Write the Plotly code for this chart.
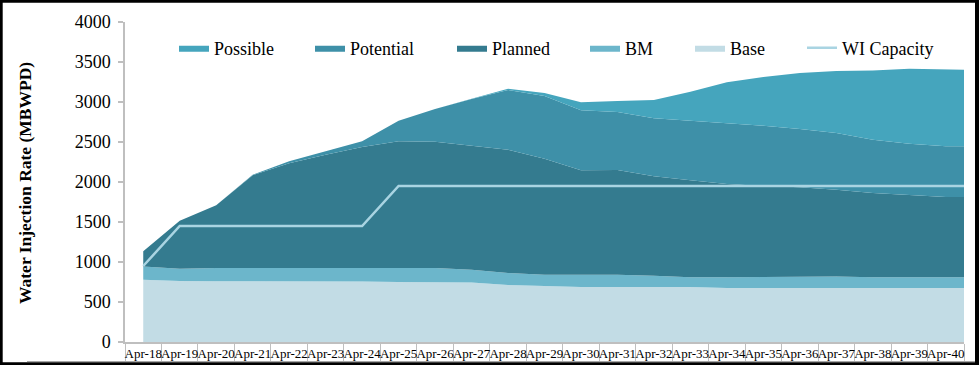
import plotly.graph_objects as go

months = ["Apr-18", "Apr-19", "Apr-20", "Apr-21", "Apr-22", "Apr-23", "Apr-24", "Apr-25",
          "Apr-26", "Apr-27", "Apr-28", "Apr-29", "Apr-30", "Apr-31", "Apr-32", "Apr-33",
          "Apr-34", "Apr-35", "Apr-36", "Apr-37", "Apr-38", "Apr-39", "Apr-40"]
base = [779, 762, 760, 760, 760, 758, 755, 750, 750, 745, 712, 695, 687, 687, 687, 687,
        675, 675, 675, 675, 675, 675, 675]
bm = [166, 154, 165, 165, 165, 167, 170, 175, 175, 159, 150, 146, 154, 154, 142, 121,
      133, 141, 141, 145, 133, 133, 133]
planned = [190, 600, 783, 1160, 1310, 1416, 1512, 1583, 1579, 1550, 1542, 1449, 1305, 1309,
           1242, 1213, 1167, 1134, 1117, 1084, 1054, 1029, 1004]
potential = [0, 0, 0, 6, 23, 42, 71, 258, 408, 583, 746, 785, 750, 725, 725, 745, 762, 754,
             729, 708, 667, 642, 634]
possible = [0, 0, 0, 0, 0, 0, 0, 0, 0, 3, 15, 37, 100, 137, 229, 363, 509, 608, 700, 775,
            866, 937, 958]
wi_capacity = [950, 1450, 1450, 1450, 1450, 1450, 1450, 1950, 1950, 1950, 1950, 1950, 1950,
               1950, 1950, 1950, 1950, 1950, 1950, 1950, 1950, 1950, 1950]

W, H = 979, 365
L, R, T, B = 125, 15, 22, 23
PW, PH = W - L - R, H - T - B


def px(xp):
    return (xp - L) / PW


def py(yp):
    return (H - B - yp) / PH


x_pos = list(range(len(months)))
# areas run on to the right edge of the last category cell
x_area = x_pos + [x_pos[-1] + 0.5]


def ext(v):
    return v + [v[-1]]


SERIF = "Liberation Serif, Times New Roman, serif"

series = [
    ("Base", base, "#c2dce5", "legend5"),
    ("BM", bm, "#6cb6cb", "legend4"),
    ("Planned", planned, "#347b8f", "legend3"),
    ("Potential", potential, "#3e90a8", "legend2"),
    ("Possible", possible, "#45a5bd", "legend"),
]

fig = go.Figure()
for name, vals, col, leg in series:
    fig.add_trace(go.Scatter(
        x=x_area, y=ext(vals), name=name, mode="lines", stackgroup="one",
        line=dict(width=0, color=col), fillcolor=col, legend=leg,
        hoverinfo="skip"))

fig.add_trace(go.Scatter(
    x=x_area, y=ext(wi_capacity), name="WI Capacity", mode="lines",
    line=dict(color="#a9d4e2", width=2.5), legend="legend6"))

legend_text_x = {"legend": 214, "legend2": 350, "legend3": 492,
                 "legend4": 625, "legend5": 730, "legend6": 842}
leg_layout = {}
for key, tx in legend_text_x.items():
    leg_layout[key] = dict(
        x=px(tx - 40), y=py(48), xanchor="left", yanchor="middle",
        orientation="h", bgcolor="rgba(0,0,0,0)", itemwidth=30,
        font=dict(family=SERIF, size=18, color="#000000"))

fig.update_layout(
    width=W, height=H,
    margin=dict(l=L, r=R, t=T, b=B, pad=0, autoexpand=False),
    paper_bgcolor="white", plot_bgcolor="white",
    showlegend=True,
    **leg_layout,
    xaxis=dict(
        range=[-0.5, len(months) - 0.5], tickmode="array", tickvals=x_pos,
        ticktext=months, ticks="", showgrid=False, zeroline=False,
        showline=True, linecolor="#bfbfbf", linewidth=1.5, tickangle=0,
        automargin=False, ticklabelstandoff=-1,
        tickfont=dict(family=SERIF, size=13, color="#000000"),
        minor=dict(ticks="outside", ticklen=18, tick0=-0.5, dtick=1,
                   tickcolor="#bfbfbf", tickwidth=1, showgrid=False),
    ),
    yaxis=dict(
        range=[0, 4000], tickmode="linear", tick0=0, dtick=500,
        ticks="outside", ticklen=5, tickcolor="#bfbfbf", tickwidth=1.5,
        showgrid=False, zeroline=False, showline=True, linecolor="#bfbfbf",
        linewidth=1.5, ticklabelstandoff=4, automargin=False,
        tickfont=dict(family=SERIF, size=18, color="#000000"),
    ),
    annotations=[dict(
        text="<b>Water Injection Rate (MBWPD)</b>", textangle=-90,
        xref="paper", yref="paper", x=px(25), y=py(183),
        xanchor="center", yanchor="middle", showarrow=False,
        font=dict(family=SERIF, size=17.5, color="#000000"))],
    shapes=[
        dict(type="line", xref="paper", yref="paper", x0=px(27), x1=px(975),
             y0=py(361.5), y1=py(361.5), line=dict(color="#a6a6a6", width=1)),
        dict(type="rect", xref="paper", yref="paper", x0=px(0), x1=px(2.7),
             y0=py(0), y1=py(365), fillcolor="black", line=dict(width=0)),
        dict(type="rect", xref="paper", yref="paper", x0=px(975), x1=px(979),
             y0=py(0), y1=py(365), fillcolor="black", line=dict(width=0)),
        dict(type="rect", xref="paper", yref="paper", x0=px(0), x1=px(979),
             y0=py(0), y1=py(2.7), fillcolor="black", line=dict(width=0)),
        dict(type="rect", xref="paper", yref="paper", x0=px(0), x1=px(979),
             y0=py(362.3), y1=py(365), fillcolor="black", line=dict(width=0)),
    ],
)

fig.write_html("out.html", post_script="document.body.style.margin='0';",
               config={"displayModeBar": False})
